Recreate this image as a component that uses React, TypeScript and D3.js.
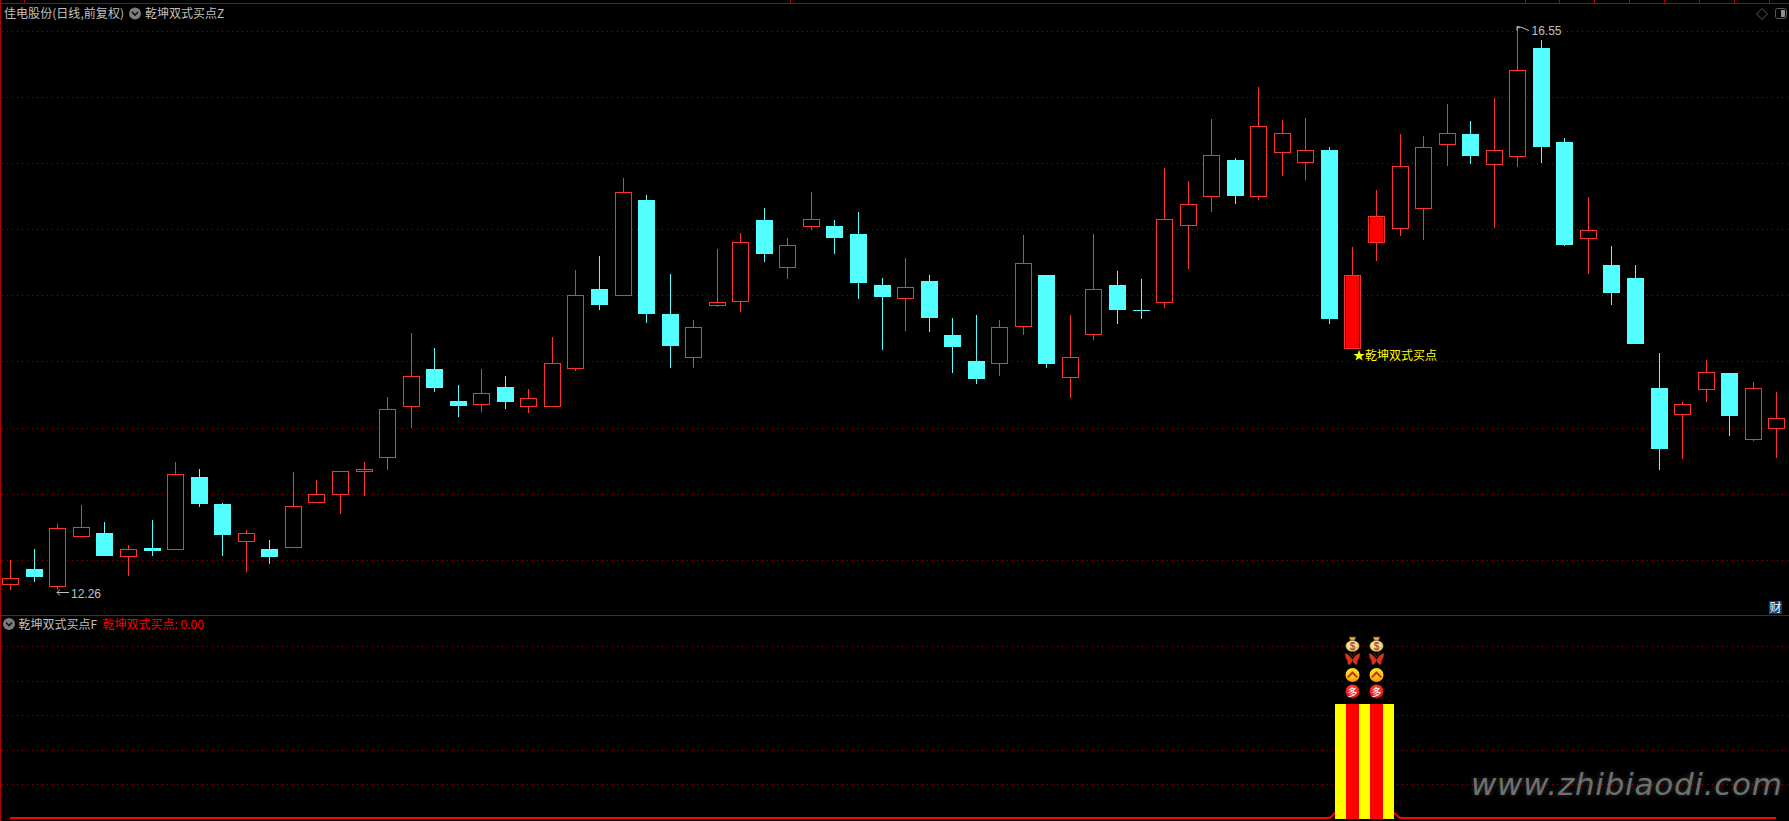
import React from "react";
import * as d3 from "d3";

const opens = [12.302,12.420,12.287,12.667,12.693,12.515,12.579,12.568,13.119,12.914,12.629,12.572,12.583,12.925,12.986,13.161,13.267,13.655,13.940,13.696,13.670,13.803,13.655,13.655,13.943,14.548,14.498,15.224,14.358,14.027,14.422,14.453,15.072,14.711,15.023,15.026,14.966,14.578,14.475,14.608,14.198,14.000,13.981,14.263,14.654,13.875,14.202,14.578,14.388,14.445,15.030,15.251,15.528,15.251,15.585,15.509,15.604,14.095,14.901,15.007,15.159,15.646,15.726,15.494,15.555,16.379,15.665,14.931,14.730,14.631,13.795,13.594,13.784,13.909,13.404,13.487];
const closes = [12.347,12.359,12.727,12.735,12.518,12.568,12.556,13.138,12.914,12.678,12.689,12.511,12.895,12.986,13.161,13.176,13.632,13.883,13.795,13.658,13.753,13.689,13.715,13.981,14.498,14.426,15.281,14.358,14.114,14.255,14.445,14.901,14.814,14.878,15.076,14.935,14.593,14.487,14.559,14.327,14.107,13.864,14.255,14.741,13.978,14.027,14.544,14.388,14.380,15.076,15.190,15.562,15.254,15.783,15.729,15.600,14.320,14.650,15.099,15.479,15.623,15.729,15.558,15.600,16.208,15.627,14.882,14.992,14.517,14.130,13.332,13.670,13.913,13.582,13.791,13.563];
const highs = [12.488,12.572,12.762,12.906,12.777,12.602,12.792,13.233,13.180,12.921,12.716,12.640,13.157,13.096,13.161,13.233,13.727,14.213,14.099,13.818,13.940,13.886,13.788,14.183,14.692,14.798,15.391,15.262,14.662,14.312,14.852,14.973,15.163,14.935,15.285,15.072,15.133,14.631,14.783,14.654,14.327,14.350,14.312,14.958,14.654,14.350,14.966,14.684,14.624,15.467,15.368,15.840,15.543,16.083,15.832,15.847,15.627,14.867,15.300,15.726,15.710,15.954,15.824,15.999,16.550,16.440,15.695,15.247,14.874,14.730,14.061,13.689,14.008,13.909,13.841,13.765];
const lows = [12.262,12.321,12.260,12.667,12.518,12.366,12.518,12.568,12.891,12.518,12.397,12.458,12.583,12.925,12.838,12.974,13.172,13.491,13.765,13.575,13.613,13.636,13.605,13.655,13.924,14.388,14.498,14.289,13.947,13.947,14.411,14.373,14.753,14.624,14.996,14.814,14.472,14.084,14.228,14.221,13.909,13.826,13.886,14.198,13.947,13.719,14.160,14.282,14.320,14.403,14.700,15.133,15.194,15.224,15.406,15.376,14.282,14.095,14.760,14.950,14.920,15.482,15.498,15.011,15.475,15.505,14.874,14.662,14.426,14.130,13.172,13.256,13.689,13.430,13.392,13.263];
const priceGrid = [16.505,16.0,15.5,15.0,14.5,14.0,13.49,12.985,12.485];
const signalGrid = [1.506,1.199,0.901,0.594,0.296];
const signalBars = [57,58];
const lowLabel = "12.26";
const highLabel = "16.55";
const stockTitle = "佳电股份(日线,前复权)";
const upperIndicator = "乾坤双式买点Z";
const lowerIndicator = "乾坤双式买点F";
const lowerValue = "乾坤双式买点: 0.00";
const buyMark = "★";
const buyLabel = "乾坤双式买点";
const watermark = "www.zhibiaodi.com";
const topTicks = [24,790,1525,1559,1594,1629,1664,1699,1734,1769];

const W = 1789, H = 821;
const BORDER = "#b00000", GRID = "#a80000", UP = "#ff3232", DOWN = "#54ffff", TXT = "#c0c0c0";
const CJK = "'Noto Sans CJK SC', sans-serif";
const NUM = "'Liberation Sans', Arial, sans-serif";

const xs = d3.scaleLinear().domain([0, 75]).range([10.3, 1776.3]);
const cx = (i: number) => Math.round(xs(i));
const y = d3.scaleLinear().domain([12.26, 16.55]).range([590, 25.53]);
const ySig = d3.scaleLinear().domain([0, 1]).range([818, 704]);

function Chevron({ x, yy }: { x: number; yy: number }) {
  return (
    <g>
      <circle cx={x} cy={yy} r={6} fill="#7c7c7c" />
      <path d={`M${x - 3},${yy - 1.5} L${x},${yy + 1.5} L${x + 3},${yy - 1.5}`} fill="none" stroke="#111" strokeWidth={1.6} />
    </g>
  );
}

function Candle({ i }: { i: number }) {
  const c = cx(i);
  const up = closes[i] >= opens[i];
  const filled = signalBars.includes(i);
  const col = up ? UP : DOWN;
  const hi = Math.round(y(highs[i]));
  const lo = Math.round(y(lows[i]));
  const wick = <line x1={c + 0.5} x2={c + 0.5} y1={hi} y2={lo} stroke={col} strokeWidth={1} />;
  if (!up) {
    const t = Math.round(y(opens[i]));
    const b = Math.round(y(closes[i]));
    return (
      <g shapeRendering="crispEdges">
        {wick}
        <rect x={c - 8} y={t} width={17} height={Math.max(b - t, 1)} fill={DOWN} />
      </g>
    );
  }
  const t = Math.floor(y(closes[i]));
  const b = Math.floor(y(opens[i]));
  return (
    <g shapeRendering="crispEdges">
      {wick}
      <rect x={c - 7.5} y={t + 0.5} width={16} height={b - t} fill="#000" stroke={UP} strokeWidth={1} />
      {filled && <rect x={c - 6} y={t + 1} width={13} height={b - t - 1} fill="#ff0000" />}
    </g>
  );
}

function SignalIcons({ x }: { x: number }) {
  return (
    <g>
      {/* money bag */}
      <path d={`M${x - 3.5},637 h7 l-1.8,4 h-3.4 z`} fill="#d8a848" stroke="#8a3b10" strokeWidth={0.6} />
      <ellipse cx={x} cy={646} rx={6.8} ry={5.6} fill="url(#bag)" stroke="#6e5a1e" strokeWidth={0.6} />
      <text x={x} y={649.8} fontSize={10} fontWeight={700} textAnchor="middle" fill="#a0503c" fontFamily={NUM}>$</text>
      {/* butterfly */}
      <path d={`M${x},660 C${x - 2},656 ${x - 5},653.5 ${x - 7.5},653.5 C${x - 7},657 ${x - 6.5},659 ${x - 5},660.5 C${x - 5},662.5 ${x - 4.5},664 ${x - 3.5},665 C${x - 2},664 ${x - 0.5},662 ${x},660 Z`} fill="#d8341e" stroke="#9c2012" strokeWidth={0.5} />
      <path d={`M${x},660 C${x + 2},656 ${x + 5},653.5 ${x + 7.5},653.5 C${x + 7},657 ${x + 6.5},659 ${x + 5},660.5 C${x + 5},662.5 ${x + 4.5},664 ${x + 3.5},665 C${x + 2},664 ${x + 0.5},662 ${x},660 Z`} fill="#d8341e" stroke="#9c2012" strokeWidth={0.5} />
      <path d={`M${x - 2.5},652.5 L${x},657 L${x + 3},652`} fill="none" stroke="#6a5a2a" strokeWidth={0.6} />
      {/* chevron coin */}
      <circle cx={x} cy={675} r={7} fill="url(#coin)" />
      <path d={`M${x - 6},677.5 L${x},671 L${x + 6},677.5 L${x + 3.5},677.5 L${x},674 L${x - 3.5},677.5 Z`} fill="#c8281a" />
      {/* red ball */}
      <circle cx={x} cy={691.5} r={7} fill="url(#ball)" />
      <text x={x} y={695.5} fontSize={10} textAnchor="middle" fill="#fff" fontFamily={CJK}>多</text>
    </g>
  );
}

export default function App() {
  const line = d3.line<[number, number]>().x((d) => d[0]).y((d) => d[1]);
  const first = signalBars[0];
  const last = signalBars[signalBars.length - 1];
  const barL = cx(first) - 17;
  const barR = cx(last) + 18;
  const base = ySig(0);
  const sigPts: [number, number][] = [
    [cx(0), base],
    [cx(first - 1) + 1, base],
    [barL, base - 5],
    [barR, base - 5],
    [cx(last + 1), base],
    [cx(75), base],
  ];
  return (
    <svg width={W} height={H} viewBox={`0 0 ${W} ${H}`} style={{ position: "fixed", left: 0, top: 0, background: "#000", display: "block" }}>
      <defs>
        <radialGradient id="bag" cx="45%" cy="40%" r="65%">
          <stop offset="0%" stopColor="#fff6c0" />
          <stop offset="100%" stopColor="#e8c64a" />
        </radialGradient>
        <linearGradient id="coin" x1="0" y1="0" x2="0" y2="1">
          <stop offset="0%" stopColor="#ffe020" />
          <stop offset="60%" stopColor="#ffc818" />
          <stop offset="100%" stopColor="#ff8a10" />
        </linearGradient>
        <radialGradient id="ball" cx="50%" cy="35%" r="70%">
          <stop offset="0%" stopColor="#ff5a4a" />
          <stop offset="100%" stopColor="#e00000" />
        </radialGradient>
        <filter id="wmBlur" x="-5%" y="-30%" width="110%" height="160%">
          <feGaussianBlur stdDeviation="2.5" />
        </filter>
      </defs>
      <rect width={W} height={H} fill="#000" />

      {/* grids */}
      <g shapeRendering="crispEdges" stroke={GRID} strokeWidth={1} strokeDasharray="1 4">
        {priceGrid.map((p) => {
          const yy = Math.floor(y(p)) + 0.5;
          return <line key={p} x1={2} x2={W} y1={yy} y2={yy} />;
        })}
        {signalGrid.map((p) => {
          const yy = Math.floor(ySig(p)) + 0.5;
          return <line key={p} x1={2} x2={W} y1={yy} y2={yy} />;
        })}
      </g>

      {/* frame */}
      <g shapeRendering="crispEdges" stroke={BORDER} strokeWidth={1}>
        <line x1={0} x2={W} y1={3.5} y2={3.5} />
        <line x1={0.5} x2={0.5} y1={0} y2={H} />
        <line x1={0} x2={W} y1={615.5} y2={615.5} />
        {topTicks.map((t) => <line key={t} x1={t + 0.5} x2={t + 0.5} y1={0} y2={3} />)}
      </g>

      {/* candles */}
      {opens.map((_, i) => <Candle key={i} i={i} />)}

      {/* extreme labels */}
      <path d={`M${cx(2)},${y(12.26) + 2.5} H${cx(2) + 12} M${cx(2)},${y(12.26) + 2.5} l3,-3 M${cx(2)},${y(12.26) + 2.5} l3,3`} fill="none" stroke={TXT} strokeWidth={1} />
      <text x={71} y={598} fontSize={12} fill={TXT} fontFamily={NUM}>{lowLabel}</text>
      <path d={`M${cx(64)},${y(16.55) + 1} l5,1 l7,3 M${cx(64)},${y(16.55) + 1} v4 M${cx(64)},${y(16.55) + 1} l3,1.5`} fill="none" stroke={TXT} strokeWidth={1} />
      <text x={1531.5} y={34.5} fontSize={12} fill={TXT} fontFamily={NUM}>{highLabel}</text>

      {/* buy label */}
      <text x={cx(first) + 1} y={360} fontSize={12} fill="#ffff00" fontFamily={CJK}>{buyMark}</text>
      <text x={cx(first) + 13} y={360} fontSize={12} fill="#ffff00" fontFamily={CJK}>{buyLabel}</text>

      {/* headers */}
      <text x={4} y={18} fontSize={12} fill={TXT} fontFamily={CJK} textLength={120} lengthAdjust="spacing">{stockTitle}</text>
      <Chevron x={135} yy={13.5} />
      <text x={145} y={18} fontSize={12} fill={TXT} fontFamily={CJK}>{upperIndicator}</text>
      <Chevron x={9} yy={624} />
      <text x={18.5} y={629} fontSize={12} fill={TXT} fontFamily={CJK}>{lowerIndicator}</text>
      <text x={102.5} y={629} fontSize={12} fill="#ff0000" fontFamily={CJK}>{lowerValue}</text>

      {/* top-right icons */}
      <path d="M1762,8.5 L1767.5,14 L1762,19.5 L1756.5,14 Z" fill="none" stroke="#5a5a5a" strokeWidth={1} />
      <rect x={1775.5} y={8.5} width={11} height={10} rx={2} fill="none" stroke="#5a5a5a" strokeWidth={1} />
      <rect x={1781} y={10} width={4} height={7} fill="#909090" />

      {/* 财 badge */}
      <rect x={1769} y={601} width={13} height={13} fill="#0c3c70" />
      <text x={1775.5} y={612} fontSize={12} textAnchor="middle" fill="#fff" fontFamily={CJK}>财</text>

      {/* watermark */}
      <g fontFamily="'DejaVu Sans', sans-serif" fontStyle="italic" fontSize={31}>
        <text x={1471} y={795} fill="#3a3a3a" textLength={311} lengthAdjust="spacing" filter="url(#wmBlur)">{watermark}</text>
        <text x={1471} y={795} fill="#707070" textLength={311} lengthAdjust="spacing">{watermark}</text>
      </g>

      {/* signal line and bars */}
      <path d={line(sigPts) || ""} fill="none" stroke="#ff0000" strokeWidth={2} />
      <g shapeRendering="crispEdges">
        <rect x={barL} y={ySig(1)} width={barR - barL} height={H - 2 - ySig(1)} fill="#ffff00" />
        {signalBars.map((i) => (
          <rect key={i} x={cx(i) - 6} y={ySig(1)} width={13} height={H - 2 - ySig(1)} fill="#ff0000" />
        ))}
      </g>
      {signalBars.map((i) => <SignalIcons key={i} x={cx(i) + 0.5} />)}
    </svg>
  );
}
